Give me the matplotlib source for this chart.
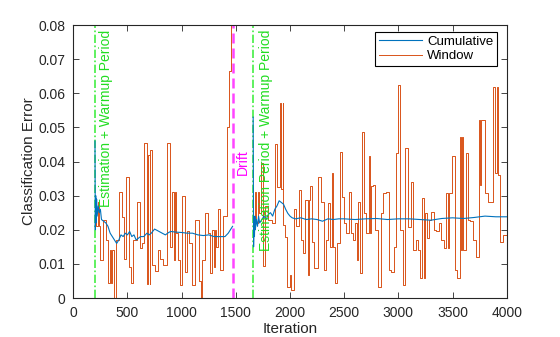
import matplotlib
matplotlib.use("Agg")
import matplotlib.pyplot as plt

plt.rcParams['font.family'] = ['Liberation Sans', 'DejaVu Sans']

# ---- data ----
drift_iter = 1470
warm_start_1 = 200
warm_start_2 = 1660

# Window error (step series), part before drift: start iteration and value of each step
win1_x = [200, 212, 224, 236, 246, 277, 305, 323, 335, 347, 355, 375, 395, 420, 445, 465, 490,
          515, 535, 555, 590, 612, 635, 655, 680, 692, 704, 710, 730, 750, 780, 800, 830,
          865, 895, 915, 927, 939, 945, 965, 985, 1006, 1030, 1045, 1068, 1092, 1123, 1163,
          1175, 1187, 1192, 1215, 1240, 1261, 1283, 1295, 1307, 1315, 1332,
          1354, 1384, 1418, 1437, 1452, 1470]
win1_y = [0.028, 0.021, 0.028, 0.021, 0.011, 0.023, 0.017, 0.0045, 0.014, 0.0045, 0.014, 0.0,
          0.017, 0.031, 0.0236, 0.0115, 0.0356, 0.0092, 0.0044, 0.017, 0.028, 0.0146, 0.016,
          0.0455, 0.004, 0.042, 0.004, 0.0435, 0.0097, 0.0078, 0.014, 0.0115, 0.0097, 0.0455,
          0.015, 0.031, 0.011, 0.031, 0.019, 0.011, 0.0037, 0.030, 0.0077, 0.0195, 0.016,
          0.0037, 0.023, 0.005, 0.0, 0.005, 0.011, 0.025, 0.019, 0.0072, 0.02, 0.009, 0.02,
          0.015, 0.026, 0.0082, 0.024, 0.05, 0.0665, 0.09, 0.09]

# Window error after drift
win2_x = [1665, 1677, 1689, 1701, 1712, 1735, 1750, 1770, 1800, 1835, 1858, 1883, 1907, 1919,
          1931, 1940, 1955, 1975, 1996, 2012, 2036, 2058, 2080, 2098, 2120, 2143, 2166, 2178,
          2186, 2205, 2225, 2262, 2290, 2310, 2335, 2351, 2366, 2388, 2400, 2413,
          2434, 2459, 2480, 2499, 2520, 2542, 2560, 2582, 2603, 2615, 2628, 2643, 2665,
          2683, 2705, 2726, 2738, 2751, 2766, 2788, 2812, 2837, 2858, 2889, 2911, 2936,
          2960, 2982, 2997, 3018, 3043, 3065, 3089, 3114, 3138, 3160, 3181, 3203, 3221,
          3233, 3243, 3264, 3283, 3304, 3326, 3350, 3375, 3396, 3418, 3443, 3455,
          3467, 3498, 3520, 3541, 3566, 3578, 3590, 3600, 3621, 3643, 3665, 3689, 3713,
          3741, 3753, 3766, 3796, 3827, 3849, 3873, 3895, 3907, 3919, 3941, 3965,
          3981, 4000]
win2_y = [0.023, 0.031, 0.022, 0.031, 0.025, 0.0395, 0.0094, 0.027, 0.0229, 0.022, 0.045,
          0.0324, 0.057, 0.032, 0.057, 0.0215, 0.018, 0.0033, 0.0067, 0.0024, 0.026, 0.021,
          0.0317, 0.017, 0.0131, 0.0287, 0.0067, 0.0287, 0.0327, 0.0165, 0.0087,
          0.0355, 0.028, 0.0082, 0.017, 0.0277, 0.015, 0.0366, 0.015, 0.0043, 0.016,
          0.0429, 0.0297, 0.022, 0.019, 0.0312, 0.019, 0.017, 0.022, 0.011, 0.0282,
          0.0072, 0.0487, 0.0248, 0.019, 0.0415, 0.019, 0.0327, 0.0331, 0.0199,
          0.0033, 0.0248, 0.0307, 0.031, 0.0082, 0.0075, 0.015, 0.0424, 0.0624,
          0.0199, 0.0038, 0.0439, 0.0209, 0.034, 0.014, 0.017, 0.0141, 0.006, 0.0292, 0.006,
          0.0248, 0.0175, 0.0229, 0.0253, 0.0199, 0.0195, 0.022, 0.017, 0.0146,
          0.0307, 0.0146, 0.0307, 0.0415, 0.0082, 0.0058, 0.0473, 0.014, 0.0473,
          0.0141, 0.0424, 0.0229, 0.0225, 0.017, 0.0121, 0.0521, 0.0331, 0.0521,
          0.0307, 0.0282, 0.028, 0.0619, 0.0366, 0.0619, 0.036, 0.0165,
          0.0185, 0.0185, 0.0185]

# Cumulative error
cum1_x = [200, 203, 207, 211, 215, 220, 230, 240, 250, 260, 280, 300, 320, 340, 360, 380,
          400, 420, 440, 460, 480, 500, 520, 540, 560, 580, 600, 620, 650, 680, 700, 720,
          750, 780, 820, 850, 880, 900, 950, 1000, 1050, 1100, 1150, 1200, 1250, 1300, 1350,
          1400, 1430, 1450, 1470]
cum1_y = [0.046, 0.02, 0.03, 0.022, 0.029, 0.024, 0.027, 0.025, 0.026, 0.023, 0.0225, 0.022,
          0.021, 0.019, 0.018, 0.017, 0.016, 0.017, 0.0185, 0.018, 0.019, 0.0185, 0.0195,
          0.018, 0.0185, 0.017, 0.0175, 0.018, 0.018, 0.019, 0.0185, 0.019, 0.0202, 0.0197,
          0.019, 0.0185, 0.0192, 0.0195, 0.0193, 0.0192, 0.019, 0.019, 0.0185, 0.0183,
          0.0185, 0.018, 0.018, 0.018, 0.019, 0.02, 0.021]
cum2_x = [1660, 1664, 1668, 1672, 1676, 1680, 1690, 1700, 1710, 1720, 1740, 1760, 1780, 1800,
          1820, 1840, 1860, 1880, 1900, 1920, 1940, 1960, 1980, 2000, 2020, 2050, 2100, 2150,
          2200, 2250, 2300, 2350, 2400, 2450, 2500, 2600, 2700, 2800, 2900, 3000, 3100, 3200,
          3300, 3400, 3500, 3600, 3700, 3800, 3900, 4000]
cum2_y = [0.053, 0.015, 0.022, 0.018, 0.024, 0.02, 0.023, 0.021, 0.024, 0.022, 0.023, 0.024,
          0.023, 0.0245, 0.025, 0.024, 0.026, 0.027, 0.0285, 0.028, 0.0275, 0.026, 0.0248,
          0.024, 0.0235, 0.0232, 0.0235, 0.023, 0.0232, 0.023, 0.0225, 0.0232, 0.023, 0.0232,
          0.0232, 0.023, 0.0232, 0.0233, 0.023, 0.0232, 0.0232, 0.023, 0.0228, 0.0233,
          0.0235, 0.0233, 0.0236, 0.024, 0.0238, 0.0238]

x_ticks = [0, 500, 1000, 1500, 2000, 2500, 3000, 3500, 4000]
y_ticks = [0, 0.01, 0.02, 0.03, 0.04, 0.05, 0.06, 0.07, 0.08]
y_tick_labels = ['0', '0.01', '0.02', '0.03', '0.04', '0.05', '0.06', '0.07', '0.08']

BLUE = '#0072BD'
ORANGE = '#D95319'
GREEN = '#44ee44'
MAGENTA = '#ff44ff'

fig = plt.figure(figsize=(5.6, 3.37), dpi=100)
ax = fig.add_axes([0.1309, 0.1157, 0.7739, 0.8101])

ax.axvline(warm_start_1, color=GREEN, lw=1.2, ls=(0, (5, 1.5, 1, 1.5)), zorder=1)
ax.axvline(warm_start_2, color=GREEN, lw=1.2, ls=(0, (5, 1.5, 1, 1.5)), zorder=1)
ax.axvline(drift_iter, color=MAGENTA, lw=1.8, ls=(0, (4, 2)), zorder=1)

ax.step(win1_x, win1_y, where='post', color=ORANGE, lw=0.7, zorder=2)
hw, = ax.step(win2_x, win2_y, where='post', color=ORANGE, lw=0.7, zorder=2)
ax.plot(cum1_x, cum1_y, color=BLUE, lw=0.8, zorder=3)
hc, = ax.plot(cum2_x, cum2_y, color=BLUE, lw=0.8, zorder=3)

ax.text(warm_start_1 + 40, 0.0787, 'Estimation + Warmup Period', rotation=90,
        color='#22dd22', fontsize=10, ha='left', va='top', zorder=4)
ax.text(warm_start_2 + 55, 0.0787, 'Estimation Period + Warmup Period', rotation=90,
        color='#22dd22', fontsize=10, ha='left', va='top', zorder=4)
ax.text(drift_iter + 35, 0.036, 'Drift', rotation=90, color='#ff00ff', fontsize=10,
        ha='left', va='bottom', zorder=4)

ax.set_xlim(0, 4000)
ax.set_ylim(0, 0.08)
ax.set_xticks(x_ticks)
ax.set_xticklabels([str(t) for t in x_ticks])
ax.set_yticks(y_ticks)
ax.set_yticklabels(y_tick_labels)
ax.tick_params(direction='in', top=True, right=True, length=4, width=0.6, labelsize=10,
               colors='#262626')
ax.tick_params(axis='x', pad=6)
ax.tick_params(axis='y', pad=5.5)
for s in ax.spines.values():
    s.set_linewidth(0.8)
    s.set_color('#262626')
ax.set_xlabel('Iteration', fontsize=11, color='#262626', labelpad=1.5)
ax.set_ylabel('Classification Error', fontsize=11, color='#262626', labelpad=1.5)

leg = ax.legend([hc, hw], ['Cumulative', 'Window'], loc='upper right',
                bbox_to_anchor=(0.978, 0.975), borderaxespad=0, fontsize=9.5,
                handlelength=3.2, handletextpad=0.4, borderpad=0.3, labelspacing=0.15,
                fancybox=False, framealpha=1)
leg.get_frame().set_edgecolor('black')
leg.get_frame().set_linewidth(0.8)
leg.set_zorder(5)

fig.savefig('out.png', dpi=100)
